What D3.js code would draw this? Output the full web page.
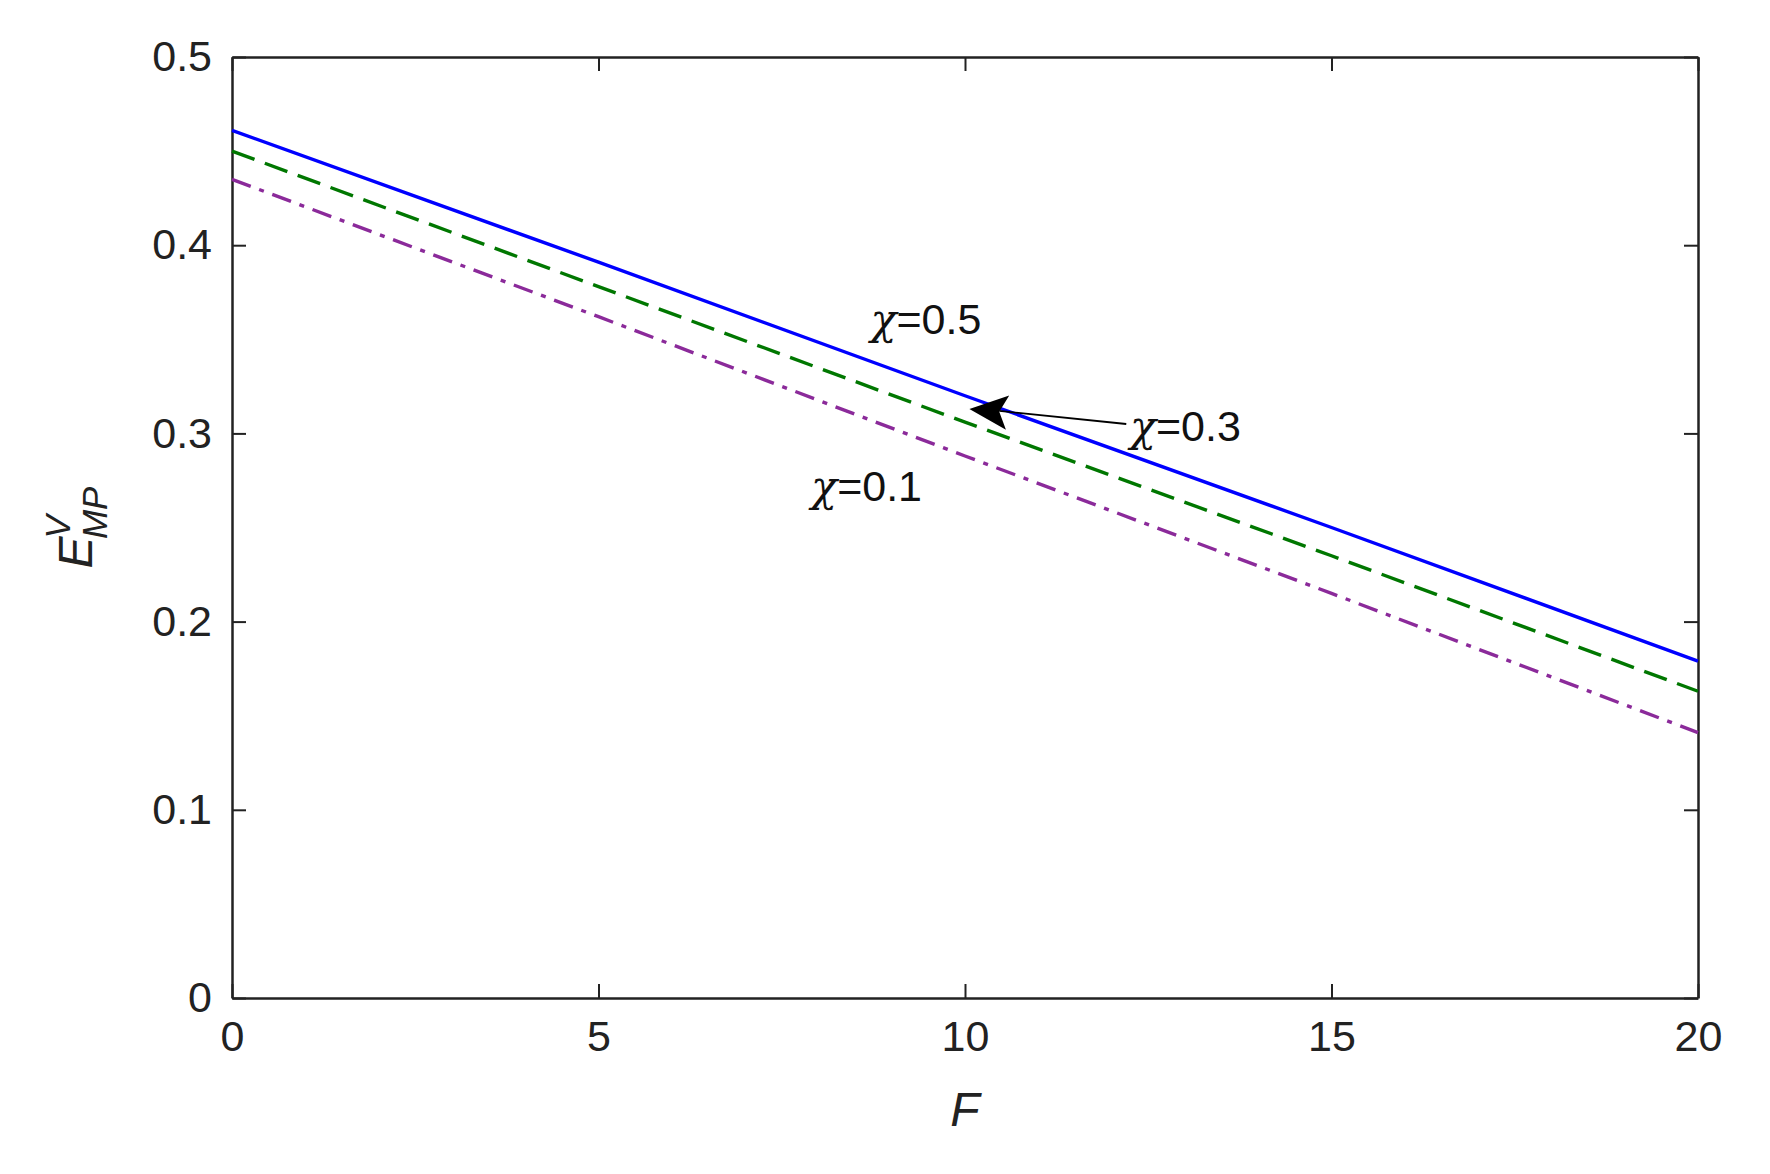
<!DOCTYPE html><html><head><meta charset="utf-8"><script src="https://d3js.org/d3.v7.min.js"></script>
<style>body{margin:0;background:#fff}svg{font-family:"Liberation Sans",Arial,sans-serif}</style></head><body>
<script>
const F=[0,5,10,15,20];
const chi05=[0.461,0.391,0.320,0.250,0.179];
const chi03=[0.450,0.378,0.306,0.235,0.163];
const chi01=[0.435,0.362,0.288,0.215,0.141];
const xTicks=[0,5,10,15,20];
const yTicks=[0,0.1,0.2,0.3,0.4,0.5];
const W=1770,H=1174,L=232,R=1698,T=57,B=998;
const svg=d3.select("body").append("svg").attr("width",W).attr("height",H);
const x=d3.scaleLinear().domain([0,20]).range([L,R]);
const y=d3.scaleLinear().domain([0,0.5]).range([B,T]);
const fs=43;
const ax=g=>{g.selectAll("path").attr("stroke","#222").attr("stroke-width",2.5);g.selectAll("line").attr("stroke","#222").attr("stroke-width",2);g.selectAll("text").attr("font-size",fs).attr("fill","#222").attr("font-family","Liberation Sans, Arial")};
svg.append("g").attr("transform",`translate(0,${B})`).call(d3.axisBottom(x).tickValues(xTicks).tickSize(-14).tickPadding(22).tickSizeOuter(0)).call(ax);
svg.append("g").attr("transform",`translate(0,${T})`).call(d3.axisTop(x).tickValues(xTicks).tickSize(-14).tickFormat("").tickSizeOuter(0)).call(ax);
svg.append("g").attr("transform",`translate(${L},0)`).call(d3.axisLeft(y).tickValues(yTicks).tickSize(-14).tickPadding(20).tickFormat(d=>d===0?"0":d3.format(".1f")(d)).tickSizeOuter(0)).call(ax);
svg.append("g").attr("transform",`translate(${R},0)`).call(d3.axisRight(y).tickValues(yTicks).tickSize(-14).tickFormat("").tickSizeOuter(0)).call(ax);
const line=d3.line().x((d,i)=>x(F[i])).y(d=>y(d));
svg.append("path").datum(chi05).attr("d",line).attr("fill","none").attr("stroke","#0000ff").attr("stroke-width",3.4);
svg.append("path").datum(chi03).attr("d",line).attr("fill","none").attr("stroke","#007700").attr("stroke-width",3.4).attr("stroke-dasharray","24,11");
svg.append("path").datum(chi01).attr("d",line).attr("fill","none").attr("stroke","#8b2a9a").attr("stroke-width",3.4).attr("stroke-dasharray","20,9,5,9");
const lab=(xv,yv,t)=>{const tx=svg.append("text").attr("x",x(xv)).attr("y",y(yv)).attr("font-size",fs).attr("fill","#111");
tx.append("tspan").attr("font-family","DejaVu Serif").attr("font-style","italic").text("χ");tx.append("tspan").text(t);};
lab(8.71,0.353,"=0.5");lab(12.25,0.296,"=0.3");lab(7.90,0.264,"=0.1");
const hx=x(10.06),hy=y(0.313),tx2=x(12.20),ty2=y(0.305);
svg.append("line").attr("x1",tx2).attr("y1",ty2).attr("x2",hx+30).attr("y2",hy+2).attr("stroke","#000").attr("stroke-width",1.8);
const ang=Math.atan2(ty2-hy,tx2-hx);
const p=(d,a)=>[hx+d*Math.cos(ang+a),hy+d*Math.sin(ang+a)];
svg.append("path").attr("d",`M${hx},${hy}L${p(42,0.42)}L${p(30,0)}L${p(42,-0.42)}Z`).attr("fill","#000");
svg.append("text").attr("x",(L+R)/2).attr("y",1126).attr("text-anchor","middle").attr("font-size",48).attr("font-style","italic").attr("fill","#222").text("F");
const yl=svg.append("text").attr("transform",`translate(92,${(T+B)/2}) rotate(-90)`).attr("text-anchor","middle").attr("font-size",48).attr("font-style","italic").attr("fill","#222");
yl.append("tspan").text("E");
yl.append("tspan").attr("font-size",35).attr("dy",-22).attr("dx",-2).text("V");
yl.append("tspan").attr("font-size",35).attr("dy",37).attr("dx",-24).text("MP");
</script></body></html>
